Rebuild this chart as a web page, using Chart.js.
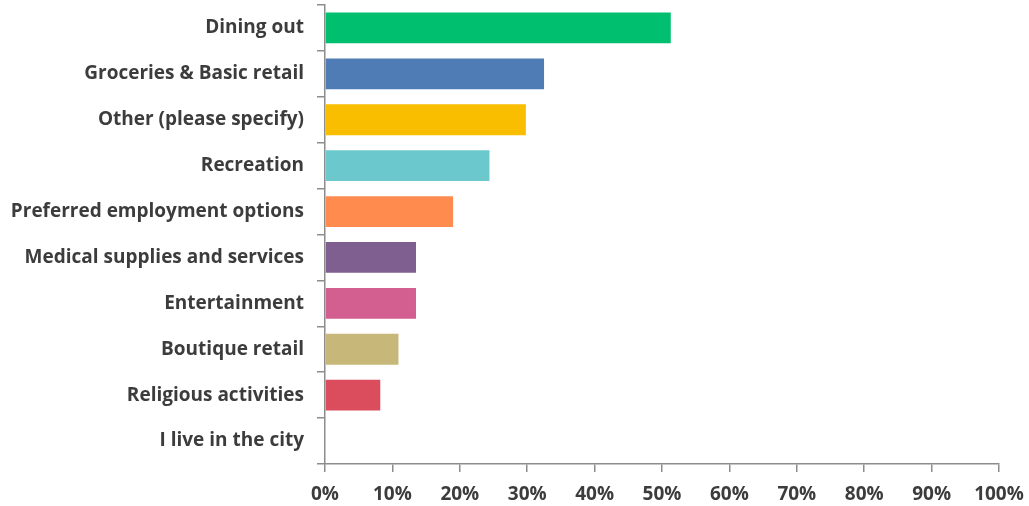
<!DOCTYPE html>
<html>
<head>
<meta charset="utf-8">
<script src="https://cdn.jsdelivr.net/npm/chart.js@4/dist/chart.umd.min.js"></script>
<style>
  html, body { margin: 0; padding: 0; background: #ffffff; }
  #wrap { width: 1029px; height: 506px; position: relative; }
</style>
</head>
<body>
<div id="wrap"><canvas id="chart"></canvas></div>
<script>
// Survey responses: share of respondents per category (percent)
const categories = [
  'Dining out',
  'Groceries & Basic retail',
  'Other (please specify)',
  'Recreation',
  'Preferred employment options',
  'Medical supplies and services',
  'Entertainment',
  'Boutique retail',
  'Religious activities',
  'I live in the city'
];
const shares = [51.3, 32.5, 29.8, 24.4, 19.0, 13.5, 13.5, 10.9, 8.2, 0];
const xTickValues = [0, 10, 20, 30, 40, 50, 60, 70, 80, 90, 100];

const barColors = [
  '#00bf6f', '#507cb6', '#f9be00', '#6bc8cd', '#ff8b4f',
  '#7f5f90', '#d25f90', '#c7b879', '#db4d5c', '#999999'
];

const labelFont = { family: '"Open Sans", Lato, sans-serif', size: 19, weight: 'bold' };
const textColor = '#3c3c3c';
const axisColor = '#8c8c8c';

new Chart(document.getElementById('chart'), {
  type: 'bar',
  data: {
    labels: categories,
    datasets: [{
      data: shares,
      backgroundColor: barColors,
      borderWidth: 0,
      barPercentage: 0.67,
      categoryPercentage: 1.0
    }]
  },
  options: {
    indexAxis: 'y',
    responsive: true,
    maintainAspectRatio: false,
    animation: false,
    layout: { padding: { top: 5, right: 30, bottom: 0, left: 0 } },
    plugins: { legend: { display: false }, tooltip: { enabled: false } },
    scales: {
      y: {
        afterFit: (scale) => {
          scale.width = 325;
          scale.paddingTop = 0;
          scale.paddingBottom = 0;
        },
        grid: {
          offset: true,
          drawOnChartArea: false,
          tickLength: 8,
          color: axisColor,
          lineWidth: 1.5
        },
        border: { display: true, color: axisColor, width: 1.5 },
        ticks: {
          font: labelFont,
          color: textColor,
          padding: 13,
          autoSkip: false
        }
      },
      x: {
        min: 0,
        max: 100,
        afterFit: (scale) => {
          scale.height = 42;
          scale.paddingLeft = 0;
          scale.paddingRight = 0;
        },
        afterBuildTicks: (scale) => {
          scale.ticks = xTickValues.map(v => ({ value: v }));
        },
        grid: {
          drawOnChartArea: false,
          tickLength: 8,
          color: axisColor,
          lineWidth: 1.5
        },
        border: { display: true, color: axisColor, width: 1.5 },
        ticks: {
          font: labelFont,
          color: textColor,
          padding: 11,
          maxRotation: 0,
          callback: (v) => v + '%'
        }
      }
    }
  }
});
</script>
</body>
</html>
